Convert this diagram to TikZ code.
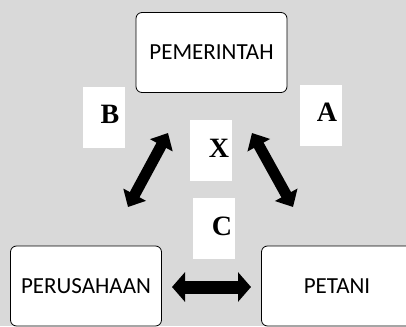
\documentclass[tikz,border=0pt]{standalone}
\usepackage{fontspec}
\setmainfont{Liberation Serif}
\newfontfamily\boxfont{Carlito}
\usetikzlibrary{arrows.meta}
\definecolor{bggray}{HTML}{D9D9D9}
\begin{document}
\begin{tikzpicture}[x=1pt,y=-1pt,
  party/.style={draw=black, line width=0.8pt, fill=white, rounded corners=6pt,
    minimum width=151pt, minimum height=80pt, inner sep=0pt,
    font=\boxfont\fontsize{23}{26}\selectfont},
  tag/.style={fill=white, minimum width=42pt, minimum height=61pt, inner sep=0pt},
  letter/.style={font=\bfseries\fontsize{28}{30}\selectfont, inner sep=0pt},
  link/.style={line width=11pt,
    {Triangle[length=14pt,width=25pt]}-{Triangle[length=14pt,width=25pt]}},
  flatlink/.style={line width=13pt,
    {Triangle[length=13pt,width=29pt]}-{Triangle[length=13pt,width=29pt]}}]
\useasboundingbox (0,0) rectangle (406,326);
\clip (0,0) rectangle (406,326);
\fill[bggray] (0,0) rectangle (406,326);

% the three parties
\node[party] (gov)  at (211.5,52.5) {PEMERINTAH};
\node[party] (firm) at (86,286)    {PERUSAHAAN};
\node[party] (farm) at (337,286)   {PETANI};

% label plates with their letters
\node[tag] (tagB) at (104,117.5) {};
\node[letter] (labB) at (110,114) {B};
\node[tag] (tagA) at (320.5,115.5) {};
\node[letter] (labA) at (327,112) {A};
\node[tag] (tagX) at (211,150) {};
\node[letter] (labX) at (219,148) {X};
\node[tag] (tagC) at (214,228) {};
\node[letter] (labC) at (222,226) {C};

% arrow end points between the boxes
\coordinate (gB) at (168,133);
\coordinate (fB) at (128,207);
\coordinate (gA) at (252,133);
\coordinate (fA) at (293,207);
\coordinate (fC) at (172,287);
\coordinate (pC) at (251,287);

% two-way relations
\draw[link] (gB) -- (fB);
\draw[link] (gA) -- (fA);
\draw[flatlink] (fC) -- (pC);
\end{tikzpicture}
\end{document}
